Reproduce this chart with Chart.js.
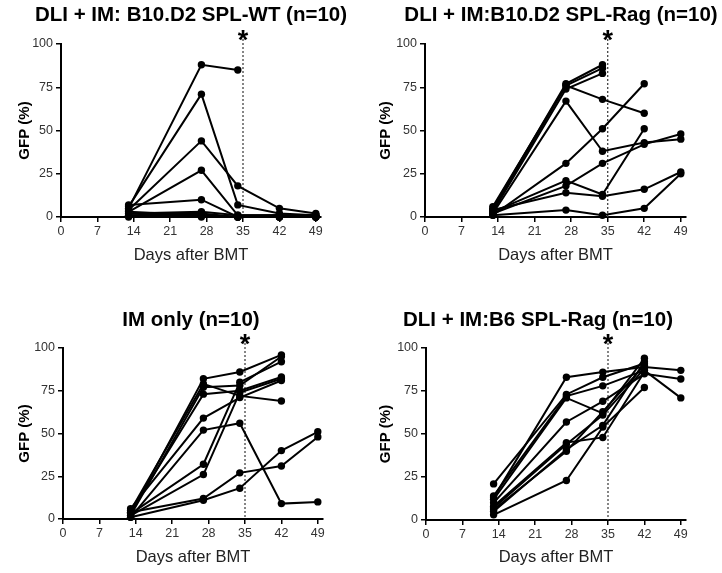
<!DOCTYPE html>
<html>
<head>
<meta charset="utf-8">
<script src="https://cdn.jsdelivr.net/npm/chart.js@4.4.1/dist/chart.umd.min.js"></script>
<style>
  html, body { margin: 0; padding: 0; background: #fff; overflow: hidden; }
  #wrap { position: relative; width: 722px; height: 573px; overflow: hidden; }
  .panel { position: absolute; }
</style>
</head>
<body>
<div id="wrap">
  <div class="panel" style="left:0;top:0;width:361px;height:270px"><canvas id="chartWT"></canvas></div>
  <div class="panel" style="left:361px;top:0;width:361px;height:270px"><canvas id="chartRagD2"></canvas></div>
  <div class="panel" style="left:0;top:300px;width:361px;height:273px"><canvas id="chartIM"></canvas></div>
  <div class="panel" style="left:361px;top:300px;width:361px;height:273px"><canvas id="chartRagB6"></canvas></div>
</div>
<script>
// sampling days (days after BMT)
const days = [13, 27, 34, 42, 49];
const xTicks = [0, 7, 14, 21, 28, 35, 42, 49];
const yTicks = [0, 25, 50, 75, 100];
const markDay = 35;

// GFP (%) per mouse, one array per mouse, null = not measured
const wtMice = [
  [5, 88, 85, null, null],
  [6, 71, 7, 2, 1],
  [4, 44, 18, 5, 2],
  [3, 27, 1, 1, 0],
  [7, 10, 0, 0, 0],
  [2, 3, 1, 1, 1],
  [1, 2, 0, 1, 0],
  [3, 1, 0, 0, 0],
  [0, 1, 0, 0, 0],
  [1, 0, 0, 0, 1]
];

const ragD2Mice = [
  [5, 77, 88, null, null],
  [4, 76, 86, null, null],
  [3, 74, 83, null, null],
  [6, 76, 68, 60, null],
  [2, 67, 38, 43, 45],
  [1, 31, 51, 77, null],
  [3, 21, 13, 51, null],
  [2, 18, 31, 42, 48],
  [4, 14, 12, 16, 26],
  [1, 4, 1, 5, 25]
];

const imOnlyMice = [
  [3, 82, 86, 96, null],
  [5, 79, 72, 69, null],
  [2, 77, 78, 95, null],
  [4, 73, 75, 83, null],
  [6, 59, 71, 81, null],
  [1, 52, 56, 9, 10],
  [3, 32, 80, 92, null],
  [2, 26, 74, 82, null],
  [4, 12, 27, 31, 48],
  [1, 11, 18, 40, 51]
];

const ragB6Mice = [
  [13, 83, 86, 89, 87],
  [21, 73, 83, 91, null],
  [12, 71, 62, 94, null],
  [10, 57, 69, 85, 82],
  [8, 45, 48, 86, null],
  [7, 44, 61, 88, null],
  [5, 41, 55, 92, null],
  [3, 23, 54, 77, null],
  [14, 72, 78, 87, 71],
  [6, 40, 63, 90, null]
];

Chart.defaults.font.family = "'Liberation Sans', Arial, sans-serif";
Chart.defaults.color = '#333';

// dotted vertical line at day 35 with the asterisk on top
const markerPlugin = {
  id: 'marker',
  beforeDatasetsDraw(chart) {
    const { ctx, chartArea } = chart;
    const x = chart.scales.x.getPixelForValue(markDay);
    ctx.save();
    ctx.strokeStyle = '#444';
    ctx.lineWidth = 1.3;
    ctx.setLineDash([2, 2]);
    ctx.beginPath();
    ctx.moveTo(x, chartArea.top - 5);
    ctx.lineTo(x, chartArea.bottom);
    ctx.stroke();
    ctx.setLineDash([]);
    ctx.fillStyle = '#000';
    ctx.font = "bold 27px 'Liberation Sans', Arial, sans-serif";
    ctx.textAlign = 'center';
    ctx.textBaseline = 'alphabetic';
    ctx.fillText('*', x, chartArea.top + 5);
    ctx.restore();
  }
};

// panel title, centred on a given x (the built-in title can only centre on the canvas)
const panelTitle = {
  id: 'panelTitle',
  afterDraw(chart, args, opts) {
    const { ctx } = chart;
    ctx.save();
    ctx.fillStyle = '#000';
    ctx.font = "bold 20.5px 'Liberation Sans', Arial, sans-serif";
    ctx.textAlign = 'center';
    ctx.textBaseline = 'middle';
    ctx.fillText(opts.text, opts.x, opts.y);
    ctx.restore();
  }
};

function makePanel(id, title, mice, box) {
  const ctx = document.getElementById(id);

  const datasets = mice.map(vals => ({
    data: vals.map((v, i) => ({ x: days[i], y: v })).filter(p => p.y !== null),
    borderColor: '#000',
    backgroundColor: '#000',
    borderWidth: 2,
    pointRadius: 3.7,
    pointBackgroundColor: '#000',
    pointBorderWidth: 0,
    tension: 0,
    clip: false
  }));

  new Chart(ctx, {
    type: 'line',
    data: { datasets: datasets },
    options: {
      responsive: true,
      maintainAspectRatio: false,
      animation: false,
      layout: { padding: { left: 0, right: box.w - box.right, top: box.top, bottom: 0 } },
      plugins: {
        legend: { display: false },
        tooltip: { enabled: false },
        title: { display: false },
        panelTitle: { text: title, x: box.titleX, y: box.titleY }
      },
      scales: {
        x: {
          type: 'linear',
          min: 0,
          max: 50,
          afterBuildTicks: s => { s.ticks = xTicks.map(v => ({ value: v })); },
          afterFit: s => { s.height = box.h - box.bottom; },
          ticks: { font: { size: 12.5 }, padding: 2, maxRotation: 0 },
          grid: { drawOnChartArea: false, drawTicks: true, tickLength: 5, color: '#000', lineWidth: 1.5 },
          border: { color: '#000', width: 2 },
          title: {
            display: true,
            text: 'Days after BMT',
            color: '#222',
            font: { size: 16.5 },
            padding: { top: 0, bottom: box.h - box.xTitleY - 10 }
          }
        },
        y: {
          min: 0,
          max: 100,
          afterBuildTicks: s => { s.ticks = yTicks.map(v => ({ value: v })); },
          afterFit: s => { s.width = box.left; },
          ticks: { font: { size: 12.5 }, padding: 3 },
          grid: { drawOnChartArea: false, drawTicks: true, tickLength: 5, color: '#000', lineWidth: 1.5 },
          border: { color: '#000', width: 2 },
          title: {
            display: true,
            text: 'GFP (%)',
            color: '#000',
            font: { size: 15, weight: 'bold' },
            padding: { top: 16, bottom: 0 }
          }
        }
      }
    },
    plugins: [markerPlugin, panelTitle]
  });
}

makePanel('chartWT', 'DLI + IM: B10.D2 SPL-WT (n=10)', wtMice,
  { w: 361, h: 270, left: 61, right: 321, top: 44, bottom: 217, titleX: 191, titleY: 15, xTitleY: 255 });
makePanel('chartRagD2', 'DLI + IM:B10.D2 SPL-Rag (n=10)', ragD2Mice,
  { w: 361, h: 270, left: 64, right: 325, top: 44, bottom: 217, titleX: 200, titleY: 15, xTitleY: 255 });
makePanel('chartIM', 'IM only (n=10)', imOnlyMice,
  { w: 361, h: 273, left: 63, right: 323, top: 48, bottom: 219, titleX: 191, titleY: 20, xTitleY: 257 });
makePanel('chartRagB6', 'DLI + IM:B6 SPL-Rag (n=10)', ragB6Mice,
  { w: 361, h: 273, left: 65, right: 325, top: 48, bottom: 220, titleX: 177, titleY: 20, xTitleY: 257 });
</script>
</body>
</html>
